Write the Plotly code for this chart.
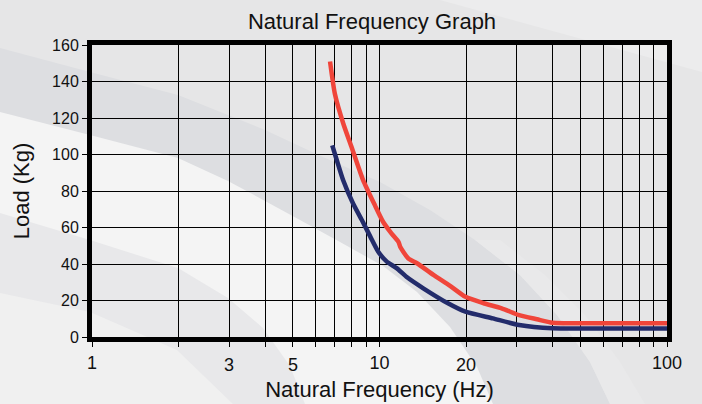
import math
import plotly.graph_objects as go

# ---- data ----
red_freq = [6.73, 7.0, 7.48, 8.0, 8.77, 9.65, 10.3, 11.0, 11.65, 11.8, 12.6, 13.5, 15.4, 17.6, 19.9, 23.0, 26.6, 30.6, 35.3, 40.0, 60.0, 100.0]
red_load = [151, 133, 117, 104, 86, 72, 63, 56.8, 52, 49.5, 43, 40.4, 34, 28, 22, 18.5, 15.7, 12, 9.7, 7.8, 7.6, 7.5]

blue_freq = [6.85, 7.1, 7.47, 8.1, 8.69, 9.29, 9.9, 10.6, 11.5, 12.4, 14.2, 17.3, 19.9, 24.8, 30.6, 40.0, 60.0, 100.0]
blue_load = [105, 97, 86, 73, 64, 55, 46.7, 41.3, 37.6, 33, 26.7, 18.5, 13.9, 10.2, 6.6, 4.8, 4.7, 4.7]

x_grid_vals = [1, 2, 3, 4, 5, 6, 7, 8, 9, 10, 20, 30, 40, 50, 60, 70, 80, 90, 100]
x_main_labels = {1: "1", 10: "10", 100: "100"}
x_low_labels = [3, 5, 20]
y_ticks = [0, 20, 40, 60, 80, 100, 120, 140, 160]

W, H = 702, 404
ML, MR, MT, MB = 92, 35, 45, 67
PW, PH = W - ML - MR, H - MT - MB

FONT = "Liberation Sans, Arial, sans-serif"


def to_paper(pts):
    return [((px - ML) / PW, (H - MB - py) / PH) for px, py in pts]


def path(pts):
    pp = to_paper(pts)
    s = "M %.4f,%.4f " % pp[0]
    for x, y in pp[1:]:
        s += "L %.4f,%.4f " % (x, y)
    return s + "Z"


# decorative background swooshes (pixel space)
band_upper = [(0, 48), (90, 72), (178, 95), (228, 115), (265, 130), (323, 157), (380, 182),
              (430, 210), (475, 240), (520, 275), (557, 315), (590, 362), (610, 404)]
band_lower = [(0, 112), (90, 135), (178, 158), (228, 181), (265, 201), (300, 220), (340, 242),
              (383, 266), (417, 292), (450, 327), (477, 367), (493, 404)]
streak = [(610, 404), (590, 362), (557, 315), (520, 275), (475, 240), (500, 240), (545, 275),
          (585, 315), (620, 362), (645, 404)]
low_a = [(0, 213), (90, 240), (178, 268), (228, 298), (263, 328), (290, 366), (305, 404)]
low_b = [(0, 293), (90, 312), (177, 350), (233, 404)]
top_right = [(440, 0), (702, 0), (702, 72)]

shapes = []


def add_fill(pts, color):
    shapes.append(dict(type="path", xref="paper", yref="paper", path=path(pts),
                       fillcolor=color, line=dict(width=0), layer="below"))


add_fill(top_right, "#ececed")
add_fill(band_upper + [(0, 404)], "#dddee1")
add_fill(streak, "#e9e9ea")
add_fill(band_lower + [(0, 404)], "#f4f4f4")
add_fill(low_a + [(0, 404)], "#e8e8ea")
add_fill(low_b + [(0, 404)], "#f0f0f0")

fig = go.Figure()
fig.add_trace(go.Scatter(x=blue_freq, y=blue_load, mode="lines",
                         line=dict(color="#232c6b", width=4.5, shape="spline", smoothing=0.6),
                         showlegend=False, hoverinfo="skip"))
fig.add_trace(go.Scatter(x=red_freq, y=red_load, mode="lines",
                         line=dict(color="#f0453a", width=4.5, shape="spline", smoothing=0.6),
                         showlegend=False, hoverinfo="skip"))

annotations = []
for v in x_low_labels:
    annotations.append(dict(x=math.log10(v), y=0, xref="x", yref="paper", text=str(v),
                            showarrow=False, yanchor="top", yshift=-16,
                            font=dict(family=FONT, size=18, color="#111")))

fig.update_layout(
    width=W, height=H, autosize=False,
    margin=dict(l=ML, r=MR, t=MT, b=MB, pad=0),
    paper_bgcolor="#e6e6e7", plot_bgcolor="rgba(0,0,0,0)",
    font=dict(family=FONT, color="#111"),
    title=dict(text="Natural Frequency Graph", x=372 / W, xref="container", xanchor="center",
               y=1 - 21 / H, yref="container", yanchor="middle",
               font=dict(family=FONT, size=22, color="#111")),
    shapes=shapes,
    annotations=annotations,
    showlegend=False,
)
fig.update_xaxes(type="log", range=[0, 2], tickmode="array", tickvals=x_grid_vals,
                 ticktext=[x_main_labels.get(v, "") for v in x_grid_vals],
                 ticks="outside", ticklen=5, tickwidth=1, tickcolor="#000",
                 showgrid=True, gridcolor="#000", gridwidth=1,
                 showline=True, linewidth=5, linecolor="#000", mirror=True,
                 tickfont=dict(family=FONT, size=18, color="#111"),
                 title=dict(text="Natural Frequency (Hz)", standoff=12,
                            font=dict(family=FONT, size=22, color="#111")),
                 zeroline=False, automargin=False)
fig.update_yaxes(range=[0, 160], tickmode="array", tickvals=y_ticks,
                 ticks="outside", ticklen=5, tickwidth=1, tickcolor="#000",
                 showgrid=True, gridcolor="#000", gridwidth=1,
                 showline=True, linewidth=5, linecolor="#000", mirror=True,
                 tickfont=dict(family=FONT, size=16, color="#111"),
                 title=dict(text="Load (Kg)", standoff=18,
                            font=dict(family=FONT, size=22, color="#111")),
                 zeroline=False, automargin=False)

fig.write_html("out.html", config={"displayModeBar": False},
               post_script="document.body.style.margin='0';")
